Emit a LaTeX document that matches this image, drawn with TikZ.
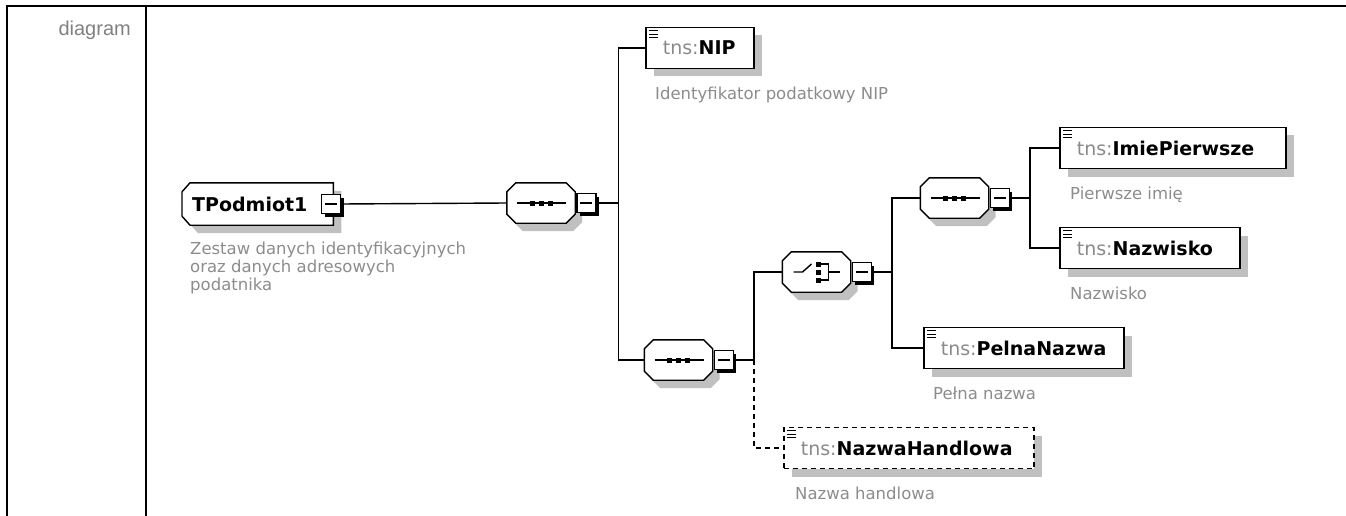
\documentclass[tikz,border=0pt]{standalone}
\usepackage{fontspec}
\setmainfont{DejaVu Sans}
\newfontfamily\labelfont{Liberation Sans}
\usetikzlibrary{positioning,backgrounds}
\definecolor{ShadeGray}{HTML}{C0C0C0}
\definecolor{NoteGray}{HTML}{8C8C8C}
\definecolor{PrefixGray}{HTML}{8A8A8A}
\newcommand{\tns}[1]{\textcolor{PrefixGray}{tns:}\textbf{#1}}
% octagon round a compositor node
\newcommand{\octpath}[1]{([xshift=9pt]#1.north west) -- ([xshift=-9pt]#1.north east)
  -- ([yshift=-9pt]#1.north east) -- ([yshift=9pt]#1.south east)
  -- ([xshift=-9pt]#1.south east) -- ([xshift=9pt]#1.south west)
  -- ([yshift=9pt]#1.south west) -- ([yshift=-9pt]#1.north west) -- cycle}

\begin{document}
\begin{tikzpicture}[
  x=1pt, y=-1pt,
  shadowed/.style={preaction={fill=ShadeGray, transform canvas={shift={(8pt,-8pt)}}}},
  elem/.style={draw, line width=1.6pt, fill=white, shadowed, minimum width=#1, minimum height=41pt,
    text width=#1-18pt, inner xsep=0pt, align=left, font=\fontsize{19}{22}\selectfont,
    execute at begin node={\hspace*{8pt}}},
  comp/.style={minimum width=68pt, minimum height=40pt, inner sep=0pt},
  tog/.style={draw, line width=1.4pt, fill=white, minimum size=19pt, inner sep=0pt,
    preaction={fill=black, transform canvas={shift={(3pt,-3pt)}}}},
  note/.style={text=NoteGray, font=\fontsize{16.5}{18}\selectfont, align=left, inner sep=0pt},
  link/.style={line width=1.4pt},
  optional/.style={dash pattern=on 5pt off 4pt}
]
  \useasboundingbox (0,0) rectangle (1346,516);

  % table frame
  \draw[line width=2pt] (7,516) -- (7,6) -- (1346,6);
  \draw[line width=2pt] (146,6) -- (146,516);
  \node[anchor=base east, inner sep=0pt, text=gray, font=\labelfont\fontsize{20}{24}\selectfont]
    (diaglabel) at (131,36) {diagram};

  % complex type
  \node[minimum width=151pt, minimum height=42pt, inner xsep=0pt, text width=131pt, align=left,
    font=\fontsize{19}{22}\selectfont\bfseries, anchor=west] (t1) at (182,204) {TPodmiot1};
  \node[tog] (t1tog) at (331,204) {};
  \node[note, below right=17pt and 8pt of t1.south west] (t1note)
    {Zestaw danych identyfikacyjnych\\oraz danych adresowych\\podatnika};

  % compositors
  \node[comp] (seq1) at (541,203) {};
  \node[tog, right=1pt of seq1] (seq1tog) {};
  \node[comp] (seq2) at (678.5,360) {};
  \node[tog, right=1pt of seq2] (seq2tog) {};
  \node[comp] (choice) at (816.5,272) {};
  \node[tog, right=1pt of choice] (choicetog) {};
  \node[comp] (seq3) at (954.5,198) {};
  \node[tog, right=1pt of seq3] (seq3tog) {};

  \begin{scope}[on background layer]
    \fill[ShadeGray, transform canvas={shift={(8pt,-8pt)}}]
      ([xshift=8pt]t1.north west) -- (t1.north east) -- (t1.south east)
      -- ([xshift=8pt]t1.south west) -- ([yshift=9pt]t1.south west)
      -- ([yshift=-9pt]t1.north west) -- cycle;
    \draw[line width=1.4pt, fill=white]
      ([xshift=8pt]t1.north west) -- (t1.north east) -- (t1.south east)
      -- ([xshift=8pt]t1.south west) -- ([yshift=9pt]t1.south west)
      -- ([yshift=-9pt]t1.north west) -- cycle;
    \foreach \s in {seq1,seq2,choice,seq3} {
      \fill[ShadeGray, transform canvas={shift={(7pt,-8pt)}}] \octpath{\s};
      \draw[line width=1.4pt, fill=white] \octpath{\s};
    }
  \end{scope}

  % elements
  \node[elem=108pt, anchor=west] (nip) at (645,48) {\tns{NIP}};
  \node[elem=226pt, anchor=west] (imie) at (1059,148) {\tns{ImiePierwsze}};
  \node[elem=180pt, anchor=west] (nazwisko) at (1059,248) {\tns{Nazwisko}};
  \node[elem=200pt, anchor=west] (pelna) at (923,348) {\tns{PelnaNazwa}};
  \node[elem=250pt, anchor=west, optional] (handlowa) at (783,448) {\tns{NazwaHandlowa}};

  \node[note, below right=17pt and 10pt of nip.south west] (nipnote) {Identyfikator podatkowy NIP};
  \node[note, below right=17pt and 11pt of imie.south west] (imienote) {Pierwsze imię};
  \node[note, below right=17pt and 11pt of nazwisko.south west] (nazwiskonote) {Nazwisko};
  \node[note, below right=17pt and 10pt of pelna.south west] (pelnanote) {Pełna nazwa};
  \node[note, below right=17pt and 12pt of handlowa.south west] (handlowanote) {Nazwa handlowa};

  % icons
  \foreach \e in {nip,imie,nazwisko,pelna,handlowa}
    \foreach \dy in {4,7.5,11}
      \draw[line width=1.2pt] ([shift={(4,\dy)}]\e.north west) -- ++(9,0);
  \foreach \t in {t1tog,seq1tog,seq2tog,choicetog,seq3tog}
    \draw[line width=1.2pt] ([xshift=-6pt]\t.center) -- ([xshift=6pt]\t.center);
  \foreach \s in {seq1,seq2,seq3} {
    \draw[link] ([xshift=-24pt]\s.center) -- ([xshift=25pt]\s.center);
    \foreach \dx in {-9,0,9}
      \fill ([xshift=\dx pt]\s.center) +(-2.5,-2.5) rectangle +(2.5,2.5);
  }
  \draw[link] ([xshift=-23pt]choice.center) -- ++(9,0) -- ++(9,-8);
  \foreach \dy in {-8,0,8}
    \fill ([shift={(1.5,\dy)}]choice.center) +(-2.5,-2.5) rectangle +(2.5,2.5);
  \draw[link] ([shift={(4,-8)}]choice.center) -- ++(8,0) -- ++(0,16) -- ++(-8,0);
  \draw[link] ([xshift=12pt]choice.center) -- ++(11,0);

  % connectors
  \coordinate[right=22pt of seq1tog.east] (busA);
  \coordinate[right=20pt of seq2tog.east] (busB);
  \coordinate[right=20pt of choicetog.east] (busC);
  \coordinate[right=20pt of seq3tog.east] (busD);

  \draw[link] (t1tog.east) -- (seq1.west);
  \draw[link] (seq1tog.east) -- (busA);
  \draw[link] (busA) |- (nip.west);
  \draw[link] (busA) |- (seq2.west);
  \draw[link] (seq2tog.east) -- (busB);
  \draw[link] (busB) |- (choice.west);
  \draw[link, optional] (busB) |- (handlowa.west);
  \draw[link] (choicetog.east) -- (busC);
  \draw[link] (busC) |- (seq3.west);
  \draw[link] (busC) |- (pelna.west);
  \draw[link] (seq3tog.east) -- (busD);
  \draw[link] (busD) |- (imie.west);
  \draw[link] (busD) |- (nazwisko.west);
\end{tikzpicture}
\end{document}
